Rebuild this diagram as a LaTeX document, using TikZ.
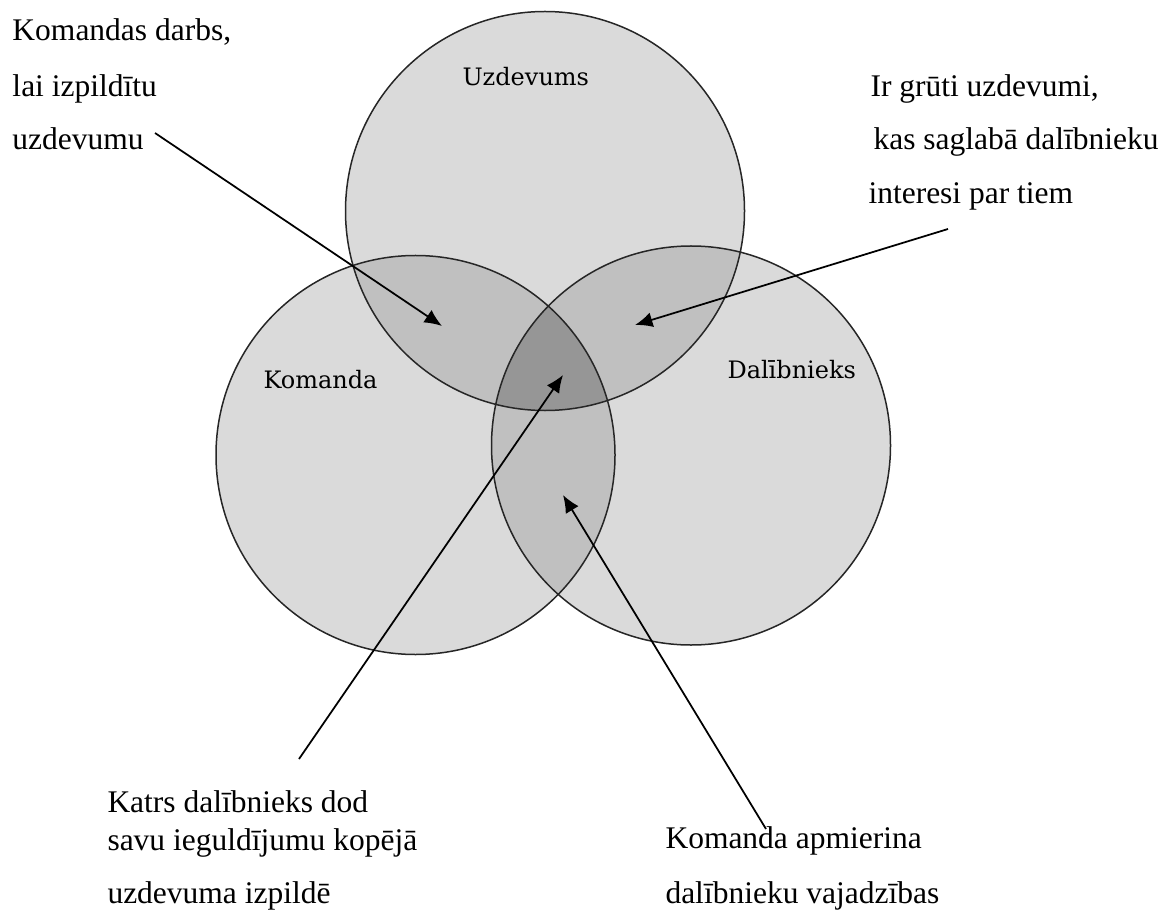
\documentclass[tikz,border=0pt]{standalone}
\usepackage{fontspec}
\setmainfont{Liberation Serif}
\newfontfamily\vennfont{DejaVu Serif}
\usetikzlibrary{arrows.meta}
\definecolor{onegray}{RGB}{218,218,218}
\definecolor{twogray}{RGB}{192,192,192}
\definecolor{threegray}{RGB}{150,150,150}
\tikzset{
  >={Latex[length=7pt,width=6pt]},
}
\tikzstyle{pointer}=[line width=0.7pt,->]
\tikzstyle{rim}=[draw=black!85,line width=0.6pt]
\tikzstyle{every node}=[font=\fontsize{12.6}{14}\selectfont,inner sep=0pt,anchor=base west]
\tikzstyle{setname}=[font=\vennfont\fontsize{9.6}{11}\selectfont]

\begin{document}
\begin{tikzpicture}[x=0.4pt,y=-0.4pt]
  \useasboundingbox (0,0) rectangle (1165,912);
  \def\circU{(545,211) circle (79.8pt)}
  \def\circK{(415.5,455) circle (79.8pt)}
  \def\circD{(691,445.5) circle (79.8pt)}
  % one circle
  \fill[onegray] \circU \circK \circD;
  % two circles
  \begin{scope}
    \clip \circU;
    \fill[twogray] \circK \circD;
  \end{scope}
  \begin{scope}
    \clip \circK;
    \fill[twogray] \circD;
  \end{scope}
  % all three
  \begin{scope}
    \clip \circU;
    \clip \circK;
    \fill[threegray] \circD;
  \end{scope}
  \draw[rim] \circU \circK \circD;

  \node[setname] (uzd) at (462,86) {Uzdevums};
  \node[setname] (kom) at (263,388) {Komanda};
  \node[setname] (dal) at (727,378) {Dalībnieks};

  \node (tl1) at (12,41) {Komandas darbs,};
  \node (tl2) at (12,97) {lai izpildītu};
  \node (tl3) at (12,150) {uzdevumu};
  \node (tr1) at (870,97) {Ir grūti uzdevumi,};
  \node (tr2) at (873,150) {kas saglabā dalībnieku};
  \node (tr3) at (868,204) {interesi par tiem};
  \node (bl1) at (107,812) {Katrs dalībnieks dod};
  \node (bl2) at (107,850) {savu ieguldījumu kopējā};
  \node (bl3) at (107,903) {uzdevuma izpildē};
  \node (br1) at (665,848) {Komanda apmierina};
  \node (br2) at (665,903) {dalībnieku vajadzības};

  \coordinate (tailA) at (155,133);
  \coordinate (tipA) at (442,326);
  \coordinate (tailB) at (948,229);
  \coordinate (tipB) at (635,325);
  \coordinate (tailC) at (299,759);
  \coordinate (tipC) at (563,375);
  \coordinate (tailD) at (766,829);
  \coordinate (tipD) at (563,495);
  \draw[pointer] (tailA) -- (tipA);
  \draw[pointer] (tailB) -- (tipB);
  \draw[pointer] (tailC) -- (tipC);
  \draw[pointer] (tailD) -- (tipD);
\end{tikzpicture}
\end{document}
